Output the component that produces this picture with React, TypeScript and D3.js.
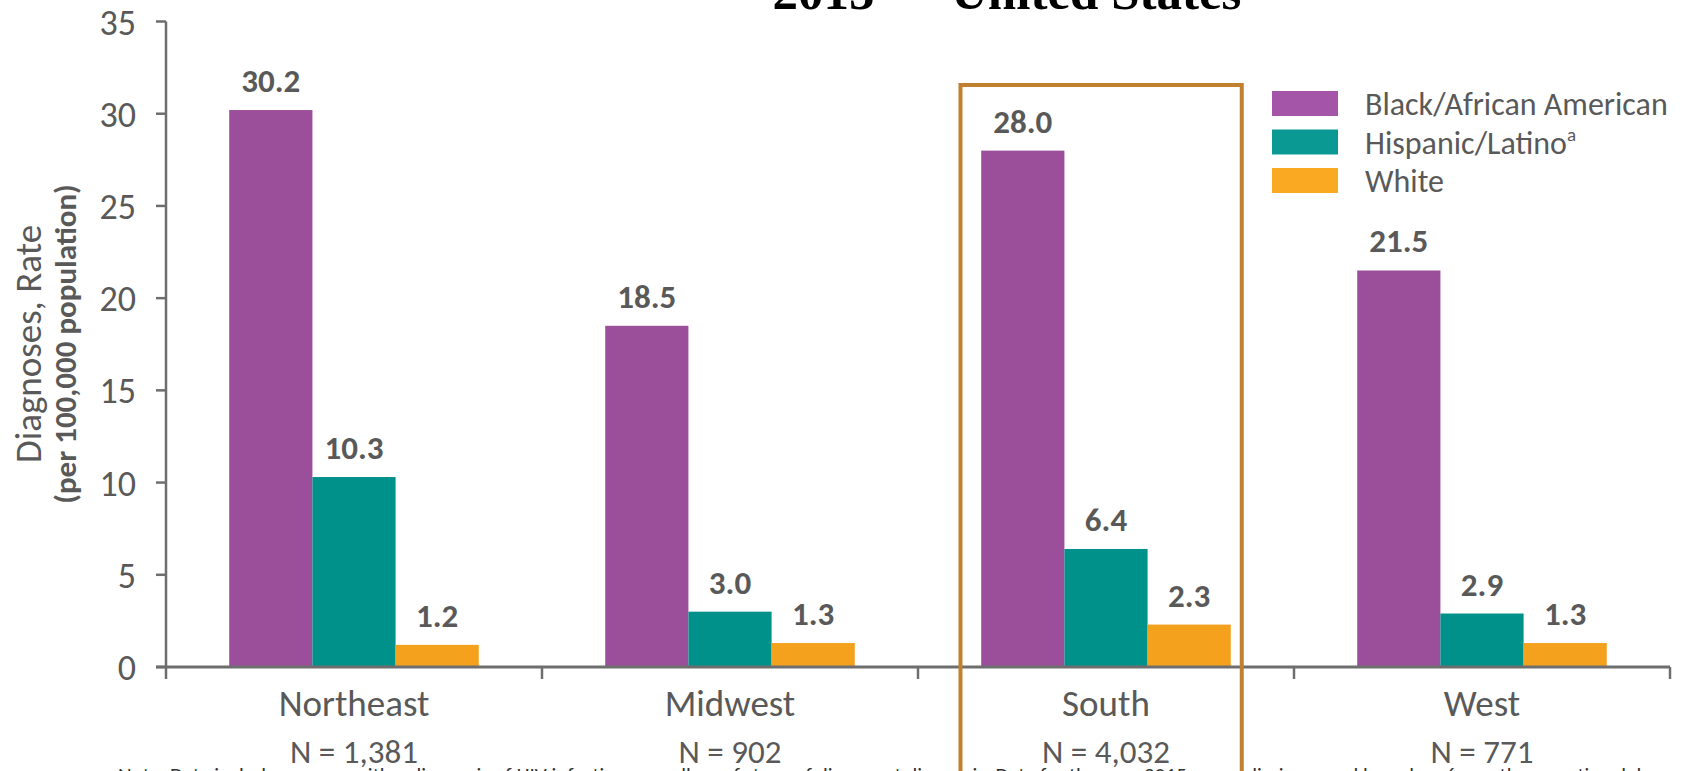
import React from "react";
import * as d3 from "d3";

const regions = ["Northeast", "Midwest", "South", "West"];
const regionN = ["N = 1,381", "N = 902", "N = 4,032", "N = 771"];
const seriesKeys = ["black", "hispanic", "white"];
const seriesNames = ["Black/African American", "Hispanic/Latino", "White"];
const blackValues = [30.2, 18.5, 28.0, 21.5];
const hispanicValues = [10.3, 3.0, 6.4, 2.9];
const whiteValues = [1.2, 1.3, 2.3, 1.3];
const yTicks = [0, 5, 10, 15, 20, 25, 30, 35];
const highlightedRegion = "South";
const titleText = "2015 \u2014 United States";
const footnoteText =
  "Note. Data include persons with a diagnosis of HIV infection regardless of stage of disease at diagnosis. Data for the year 2015 are preliminary and based on 6 months reporting delay.";

const barColors = ["#9B4E9A", "#00918B", "#F4A11E"];
const legendColors = ["#A555A8", "#0A9A93", "#F9A922"];
const axisColor = "#6E6E6E";
const textColor = "#595959";
const boxColor = "#C0802F";
const FONT = "Calibri, Carlito, Lato, sans-serif";

export default function App() {
  const W = 1682;
  const H = 771;
  const x0 = d3.scaleBand<string>().domain(regions).range([166, 1670]).padding(0);
  const x1 = d3
    .scaleBand<string>()
    .domain(seriesKeys)
    .range([0, x0.bandwidth()])
    .paddingInner(0)
    .paddingOuter(0.76);
  const y = d3.scaleLinear().domain([0, 35]).range([667, 21.5]);
  const valuesBySeries = [blackValues, hispanicValues, whiteValues];

  const data = regions.map((r, i) => ({
    region: r,
    vals: seriesKeys.map((k, j) => ({ key: k, value: valuesBySeries[j][i], color: barColors[j] })),
  }));

  const axisRight = x0.range()[1];
  const hx = x0(highlightedRegion)!;

  return (
    <svg
      width={W}
      height={H}
      style={{ position: "absolute", left: 0, top: 0, background: "#fff" }}
      fontFamily={FONT}
    >
      {/* title (cut off at top) */}
      <text
        x={1007}
        y={9}
        textAnchor="middle"
        fontFamily="'Liberation Serif', 'Times New Roman', serif"
        fontWeight="bold"
        fontSize={51}
        fill="#000"
      >
        {titleText}
      </text>

      {/* y axis title */}
      <g transform={`translate(41, 344) rotate(-90)`}>
        <text textAnchor="middle" fontSize={37} fill={textColor}>
          Diagnoses, Rate
        </text>
      </g>
      <g transform={`translate(76, 344) rotate(-90)`}>
        <text textAnchor="middle" fontSize={31} fontWeight="bold" fill={textColor}>
          (per 100,000 population)
        </text>
      </g>

      {/* bars */}
      {data.map((d) => (
        <g key={d.region} transform={`translate(${x0(d.region)},0)`}>
          {d.vals.map((v) => (
            <g key={v.key}>
              <rect
                x={x1(v.key)}
                y={y(v.value)}
                width={x1.bandwidth()}
                height={y(0) - y(v.value)}
                fill={v.color}
              />
              <text
                x={x1(v.key)! + x1.bandwidth() / 2}
                y={y(v.value) - 18}
                textAnchor="middle"
                fontSize={33}
                fontWeight="bold"
                fill={textColor}
              >
                {v.value.toFixed(1)}
              </text>
            </g>
          ))}
        </g>
      ))}

      {/* y axis */}
      <line x1={166} x2={166} y1={y(35)} y2={y(0) + 12} stroke={axisColor} strokeWidth={2.5} />
      {yTicks.map((t) => (
        <g key={t}>
          <line x1={156} x2={166} y1={y(t)} y2={y(t)} stroke={axisColor} strokeWidth={2.5} />
          <text x={136} y={y(t) + 13} textAnchor="end" fontSize={36} fill={textColor}>
            {t}
          </text>
        </g>
      ))}

      {/* x axis */}
      <line x1={156} x2={axisRight} y1={y(0)} y2={y(0)} stroke={axisColor} strokeWidth={3} />
      {regions.map((r) => (
        <line
          key={"t" + r}
          x1={x0(r)! + x0.bandwidth()}
          x2={x0(r)! + x0.bandwidth()}
          y1={y(0)}
          y2={y(0) + 12}
          stroke={axisColor}
          strokeWidth={2.5}
        />
      ))}
      {regions.map((r, i) => (
        <g key={"l" + r}>
          <text
            x={x0(r)! + x0.bandwidth() / 2}
            y={716}
            textAnchor="middle"
            fontSize={37}
            fill={textColor}
          >
            {r}
          </text>
          <text
            x={x0(r)! + x0.bandwidth() / 2}
            y={763}
            textAnchor="middle"
            fontSize={33}
            fill={textColor}
          >
            {regionN[i]}
          </text>
        </g>
      ))}

      {/* highlight box */}
      <rect
        x={hx + x0.bandwidth() * 0.113}
        y={85}
        width={x0.bandwidth() * 0.748}
        height={760}
        fill="none"
        stroke={boxColor}
        strokeWidth={4}
      />

      {/* legend */}
      {seriesNames.map((name, i) => (
        <g key={name} transform={`translate(1272, ${91 + i * 38.5})`}>
          <rect x={0} y={0} width={66} height={25} fill={legendColors[i]} />
          <text x={93} y={24} fontSize={32} fill={textColor}>
            {name}
            {i === 1 ? (
              <tspan fontSize={19} dy={-13}>
                a
              </tspan>
            ) : null}
          </text>
        </g>
      ))}

      {/* footnote (cut off at bottom) */}
      <text x={118} y={782} fontSize={21} fill="#333">
        {footnoteText}
      </text>
    </svg>
  );
}
